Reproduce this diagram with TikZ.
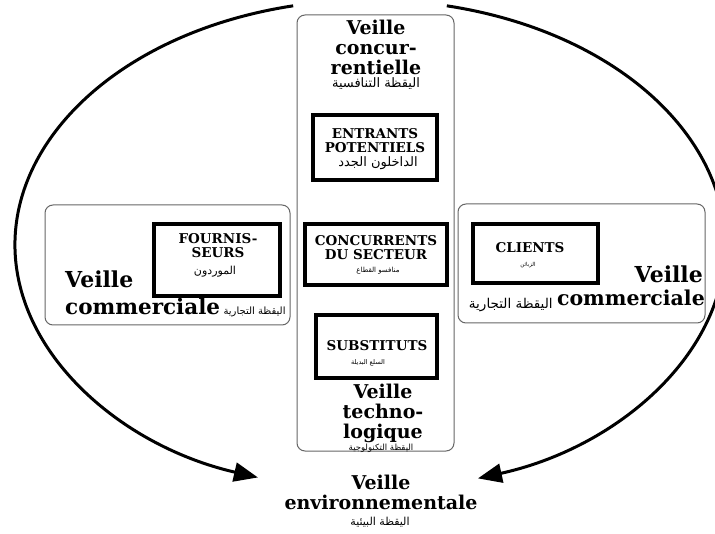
\documentclass[tikz,border=0pt]{standalone}
\usepackage{fontspec}
\setmainfont{DejaVu Serif}
\newfontfamily\arabicfont[Script=Arabic]{DejaVu Sans}
\TeXXeTstate=1
\usetikzlibrary{arrows.meta}
\begin{document}
\begin{tikzpicture}[x=1pt,y=-1pt,
  outerbox/.style={draw=black!60, line width=1pt, rounded corners=8pt, fill=white, inner sep=0},
  innerbox/.style={draw=black, line width=3.2pt, inner sep=0},
  heading/.style={font=\fontsize{19}{20}\selectfont\bfseries, align=center, inner sep=0},
  headl/.style={font=\fontsize{#1}{#1}\selectfont\bfseries, inner sep=0},
  boxtext/.style={font=\fontsize{13.5}{14}\selectfont\bfseries, align=center, inner sep=0},
  artext/.style={font=\arabicfont\fontsize{#1}{#1}\selectfont, inner sep=0},
  bigarc/.style={line width=3pt, -{Triangle[length=24pt,width=19pt]}}]
\useasboundingbox (0,0) rectangle (715,534);
% arcs
\coordinate (ls) at ({370+355*cos(-102.5)},{245+245*sin(-102.5)});
\coordinate (rs) at ({370+355*cos(-77.5)},{245+245*sin(-77.5)});
\draw[bigarc] (ls) arc[start angle=-102.5, end angle=-251.6, x radius=355, y radius=245];
\draw[bigarc] (rs) arc[start angle=-77.5, end angle=72.3, x radius=355, y radius=245];
% outer boxes
\node[outerbox, minimum width=157, minimum height=436] (col) at (375.5,233) {};
\node[outerbox, minimum width=245, minimum height=120] (lbox) at (167.5,265) {};
\node[outerbox, minimum width=247, minimum height=119] (rbox) at (581.5,263.5) {};
% inner boxes
\node[innerbox, minimum width=124, minimum height=65] (entr) at (375,147.5) {};
\node[innerbox, minimum width=142, minimum height=61] (conc) at (376,254.5) {};
\node[innerbox, minimum width=121, minimum height=63] (subs) at (376.5,346.5) {};
\node[innerbox, minimum width=126, minimum height=72] (four) at (217,260) {};
\node[innerbox, minimum width=125, minimum height=59] (clie) at (535.5,253.5) {};
% central column headings
\node[heading] (hconc) at (376,47) {Veille\\concur-\\rentielle};
\node[artext=13] (aconc) at (376,84) {\beginR اليقظة التنافسية\endR};
\node[heading] (htech) at (383,413) {Veille\\techno-\\logique};
\node[artext=8.5] (atech) at (381,448) {\beginR اليقظة التكنولوجية\endR};
% inner box texts
\node[boxtext] (tentr) at (375,141) {ENTRANTS\\POTENTIELS};
\node[artext=13] (aentr) at (378,163) {\beginR الداخلون الجدد\endR};
\node[boxtext] (tconc) at (376,248) {CONCURRENTS\\DU SECTEUR};
\node[artext=7] (aconc2) at (378,271) {\beginR منافسو القطاع\endR};
\node[boxtext] (tsubs) at (377,346) {SUBSTITUTS};
\node[artext=6.5] (asubs) at (368,363) {\beginR السلع البديلة\endR};
\node[boxtext] (tfour) at (218,246) {FOURNIS-\\SEURS};
\node[artext=11] (afour) at (215,272) {\beginR الموردون\endR};
\node[boxtext] (tclie) at (530,248) {CLIENTS};
\node[artext=5.5] (aclie) at (528,265) {\beginR الزبائن\endR};
% side headings
\node[headl=22, anchor=base west] (lv) at (65,288) {Veille};
\node[headl=21.5, anchor=base west] (lc) at (65,315) {commerciale};
\node[artext=10, anchor=base west] (la) at ([xshift=3pt]lc.base east) {\beginR اليقظة التجارية\endR};
\node[headl=22, anchor=base east] (rv) at (703,283) {Veille};
\node[headl=20.5, anchor=base east] (rc) at (705,306) {commerciale};
\node[artext=13.5, anchor=base east] (ra) at ([xshift=-4pt,yshift=-3pt]rc.base west) {\beginR اليقظة التجارية\endR};
% bottom
\node[heading] (henv) at (381,492) {Veille\\environnementale};
\node[artext=11] (aenv) at (380,522) {\beginR اليقظة البيئية\endR};
\end{tikzpicture}
\end{document}
